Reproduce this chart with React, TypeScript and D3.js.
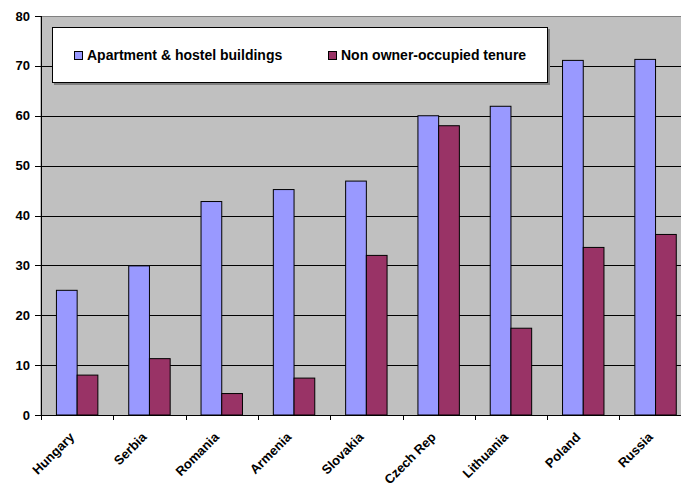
import React from "react";
import * as d3 from "d3";

const categories = ["Hungary", "Serbia", "Romania", "Armenia", "Slovakia", "Czech Rep", "Lithuania", "Poland", "Russia"];
const seriesNames = ["Apartment & hostel buildings", "Non owner-occupied tenure"];
const apartmentValues = [25, 29.9, 42.8, 45.2, 46.9, 60, 61.9, 71.1, 71.3];
const tenureValues = [8, 11.3, 4.3, 7.4, 32, 58, 17.4, 33.6, 36.2];
const yTicks = [0, 10, 20, 30, 40, 50, 60, 70, 80];
const colors = ["#9999FF", "#993366"];

const W = 681;
const H = 487;
const plotLeft = 41;
const plotTop = 16;
const plotBottom = 415;
const plotRight = 41 + 9 * 72.3;

export default function App() {
  const x0 = d3.scaleBand<string>().domain(categories).range([plotLeft, plotRight]).padding(0);
  const x1 = d3
    .scaleBand<string>()
    .domain(seriesNames)
    .range([0, x0.bandwidth()])
    .paddingInner(0)
    .paddingOuter(0.745);
  const y = d3.scaleLinear().domain([0, 80]).range([plotBottom, plotTop]);
  const series = [apartmentValues, tenureValues];
  const font = "'Liberation Sans', Arial, sans-serif";

  return (
    <svg
      width={W}
      height={H}
      style={{ position: "absolute", left: 0, top: 0, background: "#fff" }}
      fontFamily={font}
    >
      {/* plot background */}
      <rect x={plotLeft} y={plotTop + 0.5} width={plotRight - plotLeft} height={plotBottom - plotTop} fill="#C0C0C0" stroke="#808080" strokeWidth={1} />
      {/* gridlines */}
      {yTicks.filter((t) => t > 0 && t < 80).map((t) => (
        <line key={t} x1={plotLeft} x2={plotRight} y1={Math.round(y(t)) + 0.5} y2={Math.round(y(t)) + 0.5} stroke="#000" strokeWidth={1} />
      ))}
      {/* bars */}
      {categories.map((c, i) => (
        <g key={c} transform={`translate(${x0(c)},0)`}>
          {series.map((vals, s) => (
            <rect
              key={s}
              x={x1(seriesNames[s])}
              y={y(vals[i])}
              width={x1.bandwidth()}
              height={plotBottom - y(vals[i])}
              fill={colors[s]}
              stroke="#000"
              strokeWidth={1}
            />
          ))}
        </g>
      ))}
      {/* y axis */}
      <line x1={plotLeft + 0.5} x2={plotLeft + 0.5} y1={plotTop} y2={plotBottom} stroke="#000" />
      {yTicks.map((t) => (
        <g key={t}>
          <line x1={plotLeft - 6} x2={plotLeft} y1={Math.round(y(t)) + 0.5} y2={Math.round(y(t)) + 0.5} stroke="#000" />
          <text x={30} y={y(t) + 4.5} textAnchor="end" fontSize={13} fontWeight="bold" fill="#000">
            {t}
          </text>
        </g>
      ))}
      {/* x axis */}
      <line x1={plotLeft} x2={plotRight} y1={plotBottom + 0.5} y2={plotBottom + 0.5} stroke="#000" />
      {categories.map((c, i) => {
        const xt = Math.round(plotLeft + i * x0.step()) + 0.5;
        return <line key={c} x1={xt} x2={xt} y1={plotBottom} y2={plotBottom + 5} stroke="#000" />;
      })}
      {categories.map((c) => {
        const cx = (x0(c) as number) + x0.bandwidth() / 2;
        return (
          <text
            key={c}
            transform={`translate(${cx - 2},${438}) rotate(-45)`}
            textAnchor="end"
            fontSize={13}
            fontWeight="bold"
            fill="#000"
          >
            {c}
          </text>
        );
      })}
      {/* legend */}
      <rect x={54} y={29} width={496} height={56} fill="#808080" />
      <rect x={52.5} y={27.5} width={495} height={55} fill="#fff" stroke="#000" strokeWidth={1} />
      {seriesNames.map((s, i) => {
        const lx = i === 0 ? 74 : 328;
        return (
          <g key={s}>
            <rect x={lx + 0.5} y={51.5} width={8} height={8} fill={colors[i]} stroke="#000" />
            <text x={lx + 13} y={60} fontSize={14} fontWeight="bold" fill="#000">
              {s}
            </text>
          </g>
        );
      })}
    </svg>
  );
}
